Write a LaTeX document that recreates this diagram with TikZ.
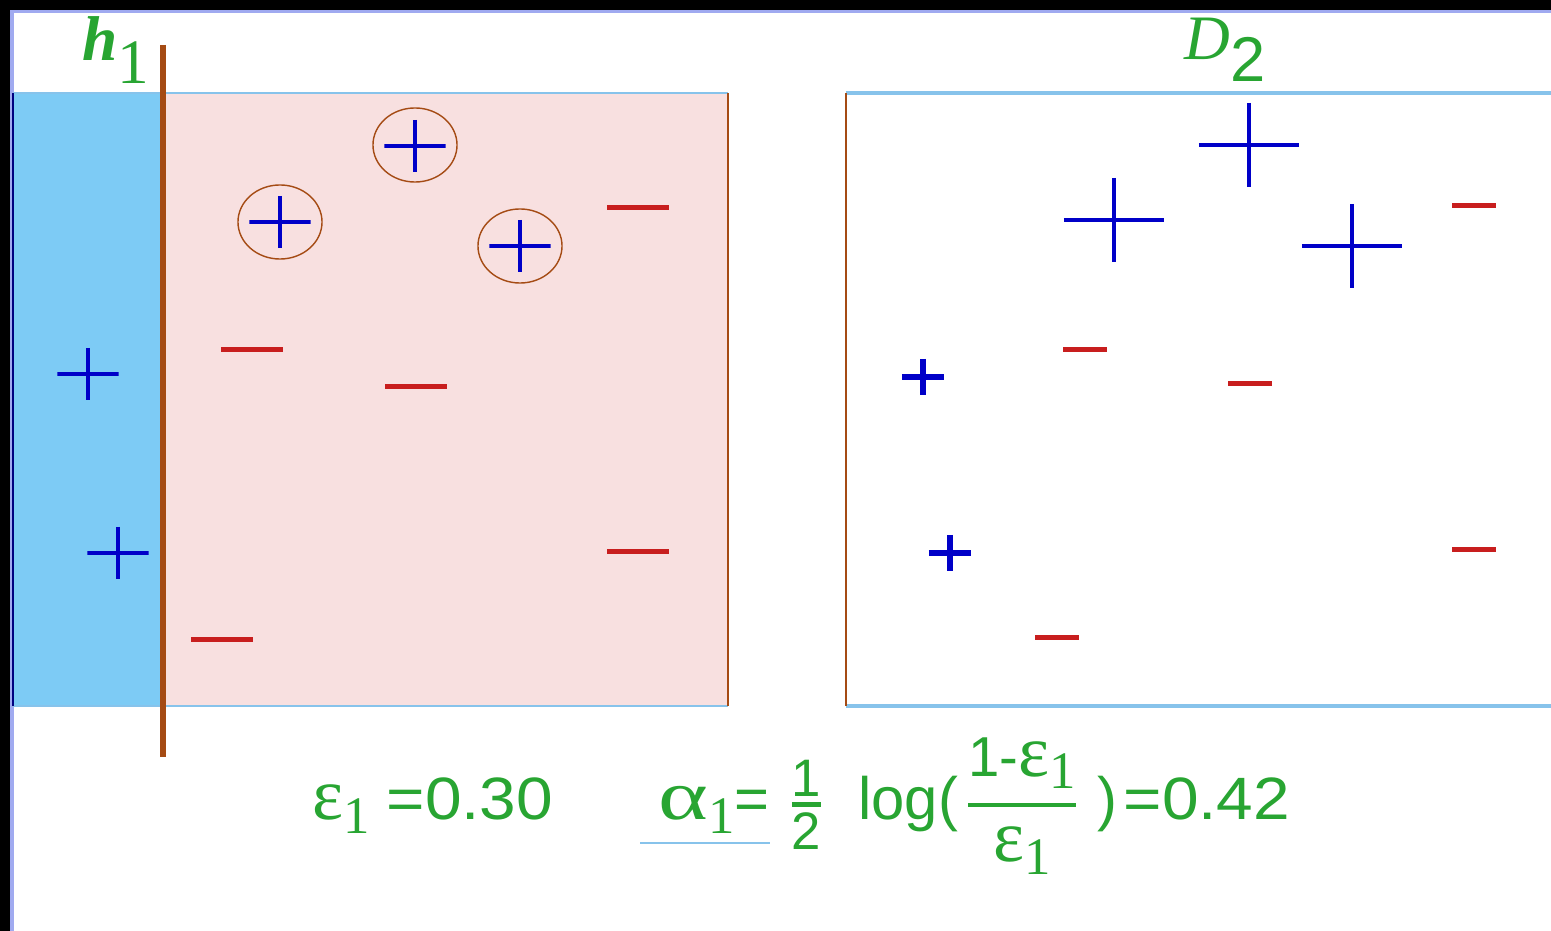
\documentclass[tikz,border=0pt]{standalone}
\usepackage{amsmath}
\usepackage{fontspec}
\setmainfont{Liberation Sans}
\newfontfamily\symfont{Liberation Serif}
\usetikzlibrary{shapes.geometric}

\definecolor{skyfill}{RGB}{125,203,245}
\definecolor{pinkfill}{RGB}{248,224,224}
\definecolor{brownline}{RGB}{165,75,20}
\definecolor{edgeblue}{RGB}{135,195,235}
\definecolor{lavline}{RGB}{160,170,240}
\definecolor{txtgreen}{RGB}{40,165,50}
\definecolor{pblue}{RGB}{0,0,200}
\definecolor{mred}{RGB}{200,30,30}

\newcommand{\lowone}{\raisebox{-0.35em}{\symfont 1}}
\newcommand{\subone}{\raisebox{-0.22em}{\fontsize{15}{15}\symfont 1}}
\newcommand{\epsi}{{\fontsize{21}{21}\symfont ε}}
\newcommand{\alf}{\scalebox{1.35}[1]{\fontsize{20}{20}\symfont α}}
\newcommand{\wide}[1]{\scalebox{1.1}[1]{#1}}

\begin{document}
\begin{tikzpicture}[x=0.01cm,y=-0.01cm,
  crossmark/.style={inner sep=0pt,
    path picture={\draw[pblue,line width=#1]
      (path picture bounding box.north)--(path picture bounding box.south)
      (path picture bounding box.west)--(path picture bounding box.east);}},
  bplus/.style={crossmark=1.2pt,minimum width=0.61cm,minimum height=0.52cm},
  lplus/.style={crossmark=1.4pt,minimum width=1cm,minimum height=0.84cm},
  splus/.style={crossmark=1.7pt,minimum width=0.42cm,minimum height=0.36cm},
  bminus/.style={fill=mred,inner sep=0pt,minimum width=0.61cm,minimum height=0.05cm},
  sminus/.style={fill=mred,inner sep=0pt,minimum width=0.44cm,minimum height=0.05cm},
  ring/.style={draw=brownline,ellipse,thin,inner sep=0pt,minimum width=0.84cm,minimum height=0.74cm},
  hlabel/.style={text=txtgreen,font=\fontsize{18}{20}\selectfont},
  formula/.style={text=txtgreen,font=\fontsize{17}{20}\selectfont,inner sep=0pt}]
\useasboundingbox (0,0) rectangle (1551,931);
\fill[white] (0,0) rectangle (1551,931);
% slide frame
\fill[black] (0,0) rectangle (1551,10);
\fill[black] (0,0) rectangle (10,931);
\draw[lavline,line width=1.1pt] (10,11.5) -- (1551,11.5) (12,11) -- (12,931);

% D1 split by h1
\fill[skyfill] (13,93) rectangle (163,706);
\fill[pinkfill] (163,93) rectangle (728,706);
\draw[edgeblue,line width=0.8pt] (13,93) -- (728,93) (13,706) -- (728,706);
\draw[blue!50!black,line width=0.5pt] (13,93) -- (13,706);
\draw[brownline,line width=0.6pt] (728,93) -- (728,706);
\draw[brownline,line width=1.7pt] (163,45) -- (163,757);

% D2 box
\draw[edgeblue,line width=1pt] (846,93) -- (1551,93) (846,706) -- (1551,706);
\draw[brownline,line width=0.6pt] (846,93) -- (846,706);

\node[hlabel] (hname) at (116,50) {{\symfont\itshape\bfseries h}\lowone};
\node[hlabel] (dname) at (1225,50) {{\symfont\itshape D}\raisebox{-0.35em}{2}};

% left samples
\node[bplus] (a1) at (415,146) {};
\node[bplus] (a2) at (280,222) {};
\node[bplus] (a3) at (520,246) {};
\node[ring] (c1) at (415,145) {};
\node[ring] (c2) at (280,222) {};
\node[ring] (c3) at (520,246) {};
\node[bplus] (a4) at (88,374) {};
\node[bplus] (a5) at (118,553) {};
\node[bminus] (b1) at (638,208) {};
\node[bminus] (b2) at (252,350) {};
\node[bminus] (b3) at (416,387) {};
\node[bminus] (b4) at (638,552) {};
\node[bminus] (b5) at (222,640) {};

% right samples, reweighted
\node[lplus] (d1) at (1249,145) {};
\node[lplus] (d2) at (1114,220) {};
\node[lplus] (d3) at (1352,246) {};
\node[splus] (d4) at (923,377) {};
\node[splus] (d5) at (950,553) {};
\node[sminus] (e1) at (1474,206) {};
\node[sminus] (e2) at (1085,350) {};
\node[sminus] (e3) at (1250,384) {};
\node[sminus] (e4) at (1474,550) {};
\node[sminus] (e5) at (1057,638) {};

% error and weight
\node[formula,anchor=base west] (eps) at (312,820)
  {\epsi\subone\ \wide{=0.30}};
\node[formula,anchor=base west] (alpha) at (658,820)
  {\alf\subone=\hspace{0.3em}$\genfrac{}{}{1.5pt}{1}{\text{\fontsize{15}{15}\selectfont 1}}{\text{\fontsize{15}{15}\selectfont 2}}$\hspace{0.55em}log(\hspace{0.1em}$\genfrac{}{}{1.3pt}{0}{\text{\fontsize{16}{16}\selectfont 1-\epsi\subone}}{\text{\fontsize{16}{16}\selectfont\epsi\subone}}$\hspace{0.3em})\hspace{0.1em}\wide{=0.42}};
\draw[edgeblue,line width=0.6pt] (640,843) -- (770,843);
\end{tikzpicture}
\end{document}
